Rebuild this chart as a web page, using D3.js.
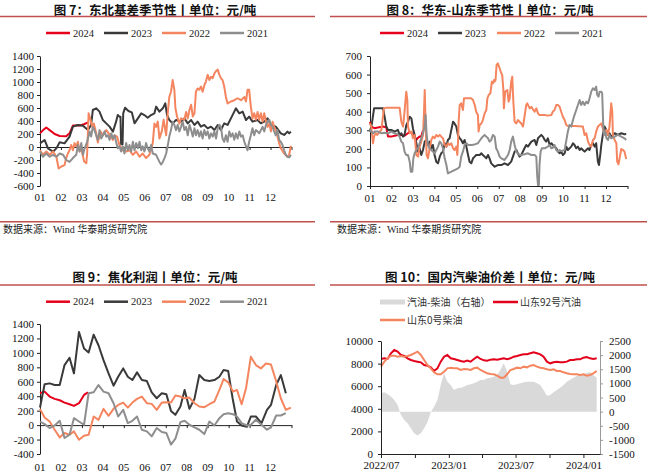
<!DOCTYPE html>
<html><head><meta charset="utf-8">
<script src="https://cdn.jsdelivr.net/npm/d3@7"></script>
<style>body{margin:0;background:#fff}svg{display:block}</style>
</head><body>
<svg id="c" width="647" height="474"></svg>
<script>
// ---------------- DATA ----------------
const monthLabels = ["01","02","03","04","05","06","07","08","09","10","11","12"];
const yearNames = ["2024","2023","2022","2021"];

// Fig 7: NE basis seasonality  [month position, value]
const ne2024 = [[0,210],[0.15,260],[0.3,300],[0.46,260],[0.7,200],[0.94,170],[1.25,165],[1.41,210],[1.57,330],[1.9,330],[2.1,350],[2.29,380]];
const ne2023 = [[0,56],[0.22,108],[0.38,-21],[0.62,-72],[0.78,-21],[0.94,72],[1.17,56],[1.41,159],[1.57,313],[1.81,339],[2.05,328],[2.29,262],[2.44,339],[2.52,569],[2.68,595],[2.84,544],[3.0,415],[3.16,364],[3.32,313],[3.48,236],[3.63,390],[3.71,492],[3.79,467],[3.84,467],[3.87,41],[3.94,41],[3.97,518],[4.06,605],[4.22,554],[4.38,533],[4.51,364],[4.67,441],[4.83,518],[4.98,492],[5.14,451],[5.3,492],[5.46,518],[5.54,621],[5.7,544],[5.86,595],[5.98,672],[6.06,492],[6.17,415],[6.33,364],[6.49,415],[6.73,390],[6.89,441],[7.05,364],[7.21,415],[7.37,339],[7.52,390],[7.68,313],[7.84,339],[8.0,287],[8.16,313],[8.32,262],[8.48,339],[8.63,262],[8.79,364],[8.95,339],[9.11,441],[9.27,544],[9.35,595],[9.51,518],[9.67,544],[9.83,415],[9.98,467],[10.14,390],[10.38,415],[10.54,364],[10.7,390],[10.86,441],[11.02,339],[11.25,313],[11.49,210],[11.65,185],[11.81,236],[11.89,210],[11.97,236]];
const ne2022 = [[0,-50],[0.14,-120],[0.3,-70],[0.46,-120],[0.62,-70],[0.78,-150],[0.89,-330],[1.02,-300],[1.17,-280],[1.25,-170],[1.33,-100],[1.41,-50],[1.49,30],[1.57,-50],[1.65,60],[1.73,10],[1.81,80],[1.89,-70],[1.97,-20],[2.1,-220],[2.21,-250],[2.25,-100],[2.32,520],[2.41,420],[2.49,310],[2.57,360],[2.68,210],[2.76,70],[2.89,240],[3.0,180],[3.16,260],[3.32,190],[3.48,110],[3.56,180],[3.68,160],[3.79,30],[3.95,-50],[4.11,-70],[4.27,-50],[4.43,-120],[4.59,-70],[4.75,-150],[4.9,-100],[5.06,-170],[5.22,-120],[5.38,60],[5.46,360],[5.54,310],[5.62,390],[5.7,130],[5.81,240],[5.9,420],[6.02,180],[6.1,540],[6.17,770],[6.25,850],[6.33,1030],[6.41,880],[6.46,600],[6.54,470],[6.65,360],[6.73,440],[6.89,420],[6.97,540],[7.05,440],[7.13,570],[7.21,650],[7.29,470],[7.37,520],[7.44,850],[7.52,900],[7.6,880],[7.68,930],[7.76,850],[7.84,950],[7.92,1010],[8.0,1110],[8.08,1030],[8.16,1080],[8.24,1060],[8.32,1130],[8.4,1170],[8.48,1190],[8.56,1110],[8.63,1060],[8.71,1030],[8.79,930],[8.87,770],[8.95,670],[9.11,700],[9.27,720],[9.43,750],[9.59,720],[9.75,770],[9.83,700],[9.9,880],[9.98,880],[10.06,620],[10.14,440],[10.22,520],[10.3,420],[10.38,540],[10.46,420],[10.54,520],[10.62,390],[10.7,520],[10.78,390],[10.86,310],[10.94,360],[11.02,240],[11.1,390],[11.17,310],[11.25,260],[11.33,160],[11.41,60],[11.49,-20],[11.65,-100],[11.81,-150],[11.89,-120],[11.97,20]];
const ne2021 = [[0,-70],[0.14,-150],[0.3,-100],[0.46,-150],[0.62,-120],[0.78,-150],[0.94,-100],[1.1,-120],[1.25,-200],[1.41,-230],[1.57,-170],[1.73,-120],[1.81,30],[1.89,-70],[1.97,60],[2.05,-120],[2.13,-20],[2.25,80],[2.37,240],[2.44,160],[2.52,310],[2.6,260],[2.68,180],[2.76,110],[2.84,260],[2.92,130],[3.0,180],[3.08,240],[3.16,160],[3.24,180],[3.32,110],[3.4,210],[3.48,130],[3.56,180],[3.63,80],[3.71,-20],[3.79,10],[3.87,-70],[3.95,10],[4.03,-100],[4.11,60],[4.19,-50],[4.27,30],[4.35,-70],[4.43,80],[4.51,-50],[4.59,60],[4.67,-20],[4.75,80],[4.83,-50],[4.9,10],[4.98,-70],[5.06,60],[5.14,-20],[5.22,-70],[5.3,30],[5.38,-100],[5.54,-120],[5.7,-230],[5.78,-270],[5.86,-230],[5.94,-170],[6.02,-100],[6.1,30],[6.17,160],[6.25,260],[6.33,390],[6.41,340],[6.49,260],[6.57,340],[6.65,240],[6.73,310],[6.81,390],[6.89,260],[6.97,310],[7.05,180],[7.13,340],[7.21,260],[7.29,160],[7.37,290],[7.44,180],[7.52,260],[7.6,160],[7.68,240],[7.76,130],[7.84,260],[7.92,180],[8.0,240],[8.08,130],[8.16,210],[8.24,160],[8.32,240],[8.4,130],[8.48,290],[8.56,340],[8.63,310],[8.71,130],[8.79,80],[8.87,180],[8.95,80],[9.03,240],[9.11,160],[9.19,210],[9.27,110],[9.35,210],[9.43,130],[9.51,240],[9.59,160],[9.67,180],[9.75,80],[9.83,10],[9.9,-50],[9.98,80],[10.06,180],[10.14,290],[10.22,180],[10.3,260],[10.38,240],[10.46,210],[10.54,260],[10.62,310],[10.7,240],[10.78,340],[10.86,390],[10.94,420],[11.02,340],[11.1,310],[11.17,240],[11.25,180],[11.33,260],[11.41,110],[11.49,80],[11.57,30],[11.65,-50],[11.73,-120],[11.81,-150],[11.89,-160],[11.97,-120]];

// Fig 8: East China - Shandong seasonality
const ec2024 = [[0,346],[0.06,320],[0.2,311],[0.37,315],[0.61,320],[0.76,315],[0.84,266],[0.99,266],[1.15,271],[1.3,275],[1.46,275],[1.61,271],[1.69,278],[1.77,284],[1.85,293],[1.93,290],[2.0,275],[2.08,266],[2.16,248],[2.24,260],[2.31,266],[2.39,266],[2.47,300]];
const ec2023 = [[0,293],[0.09,337],[0.19,418],[0.61,418],[0.68,373],[0.76,320],[0.84,302],[0.99,302],[1.15,293],[1.3,302],[1.38,275],[1.46,284],[1.54,266],[1.61,275],[1.69,328],[1.77,346],[1.85,373],[1.93,364],[2.0,311],[2.08,275],[2.16,230],[2.24,185],[2.31,203],[2.39,167],[2.47,194],[2.55,239],[2.62,248],[2.7,221],[2.78,239],[2.86,203],[2.93,221],[3.01,167],[3.09,131],[3.17,122],[3.25,158],[3.32,176],[3.4,185],[3.48,230],[3.56,212],[3.63,248],[3.71,257],[3.79,302],[3.87,346],[3.94,337],[4.02,320],[4.1,275],[4.18,257],[4.25,248],[4.33,230],[4.41,248],[4.49,212],[4.57,167],[4.64,131],[4.72,122],[4.8,149],[4.88,158],[4.95,167],[5.03,167],[5.11,167],[5.19,176],[5.26,167],[5.34,158],[5.42,149],[5.5,167],[5.57,149],[5.65,122],[5.81,104],[5.96,113],[6.12,113],[6.27,122],[6.43,113],[6.58,131],[6.74,185],[6.82,194],[6.89,176],[6.97,158],[7.05,167],[7.2,203],[7.28,221],[7.36,212],[7.52,239],[7.67,248],[7.75,221],[7.83,257],[7.9,266],[7.98,275],[8.06,266],[8.14,248],[8.21,239],[8.29,257],[8.37,221],[8.45,230],[8.52,221],[8.6,212],[8.68,203],[8.76,185],[8.84,176],[8.91,185],[8.99,167],[9.07,176],[9.15,212],[9.22,194],[9.3,203],[9.38,212],[9.46,230],[9.53,221],[9.61,203],[9.69,212],[9.77,194],[9.84,203],[9.92,194],[10.0,185],[10.08,194],[10.16,203],[10.23,194],[10.31,221],[10.39,230],[10.47,212],[10.54,230],[10.62,131],[10.67,113],[10.73,167],[10.78,221],[10.85,275],[10.93,320],[11.01,302],[11.09,275],[11.16,284],[11.24,266],[11.4,284],[11.55,275],[11.71,284],[11.86,279],[11.94,280]];
const ec2022 = [[0,337],[0.06,320],[0.14,230],[0.19,266],[0.25,284],[0.34,275],[0.45,293],[0.53,302],[0.65,418],[0.76,422],[1.15,422],[1.38,422],[1.46,346],[1.54,320],[1.61,400],[1.69,508],[1.74,463],[1.77,320],[1.85,284],[1.93,293],[2.0,257],[2.08,275],[2.16,167],[2.24,158],[2.31,212],[2.39,239],[2.47,275],[2.52,409],[2.55,517],[2.59,346],[2.64,167],[2.7,149],[2.78,203],[2.86,248],[2.93,266],[3.01,257],[3.09,275],[3.17,266],[3.25,275],[3.32,266],[3.4,257],[3.48,221],[3.56,212],[3.63,230],[3.71,221],[3.79,230],[3.87,203],[3.94,194],[4.02,212],[4.07,167],[4.1,230],[4.13,346],[4.18,436],[4.25,445],[4.33,409],[4.38,472],[4.44,472],[4.57,472],[4.72,472],[4.8,463],[4.88,436],[4.95,400],[5.03,382],[5.06,293],[5.11,328],[5.19,337],[5.26,355],[5.34,391],[5.42,409],[5.47,472],[5.53,490],[5.61,499],[5.68,562],[5.73,553],[5.78,571],[5.81,562],[5.85,571],[5.9,652],[5.96,660],[6.04,634],[6.12,607],[6.16,598],[6.21,526],[6.24,418],[6.3,508],[6.4,517],[6.46,454],[6.51,472],[6.58,562],[6.63,589],[6.68,454],[6.74,346],[6.82,337],[6.89,355],[6.97,346],[7.05,337],[7.13,320],[7.2,373],[7.28,436],[7.33,445],[7.44,418],[7.52,426],[7.67,400],[7.75,418],[7.83,391],[7.9,382],[7.98,382],[8.14,382],[8.29,379],[8.45,382],[8.52,400],[8.6,409],[8.68,436],[8.76,436],[8.84,426],[8.91,400],[8.99,373],[9.07,355],[9.15,328],[9.22,323],[9.53,323],[9.92,320],[10.0,275],[10.08,284],[10.16,239],[10.23,221],[10.31,212],[10.39,248],[10.47,257],[10.54,293],[10.62,320],[10.7,328],[10.78,337],[10.85,311],[10.93,275],[11.01,302],[11.09,275],[11.16,320],[11.24,445],[11.29,400],[11.32,275],[11.4,248],[11.48,230],[11.52,131],[11.58,117],[11.63,149],[11.71,199],[11.79,194],[11.86,185],[11.94,145]];
const ec2021 = [[0,302],[0.06,293],[0.14,284],[0.22,293],[0.37,293],[0.53,284],[0.68,287],[0.84,284],[0.99,293],[1.15,284],[1.3,278],[1.38,266],[1.46,239],[1.54,230],[1.61,185],[1.69,167],[1.77,167],[1.85,131],[1.9,77],[1.97,77],[2.02,149],[2.08,176],[2.16,194],[2.24,203],[2.31,230],[2.39,257],[2.47,284],[2.55,320],[2.59,382],[2.64,275],[2.7,221],[2.78,203],[2.86,194],[2.93,185],[3.01,176],[3.09,194],[3.17,212],[3.25,239],[3.32,230],[3.4,203],[3.48,149],[3.56,113],[3.63,68],[3.79,77],[3.94,86],[4.1,95],[4.18,104],[4.25,158],[4.33,185],[4.41,221],[4.49,230],[4.57,221],[4.72,221],[4.88,224],[5.03,230],[5.19,257],[5.26,266],[5.34,275],[5.42,266],[5.5,257],[5.57,239],[5.65,248],[5.73,275],[5.81,266],[5.88,203],[5.96,185],[6.04,158],[6.12,149],[6.27,140],[6.43,167],[6.51,194],[6.58,239],[6.66,266],[6.74,221],[6.82,185],[6.89,176],[6.97,167],[7.05,167],[7.2,171],[7.36,176],[7.52,167],[7.67,167],[7.75,158],[7.79,59],[7.83,5],[7.87,5],[7.9,113],[7.95,185],[8.01,203],[8.14,203],[8.29,212],[8.37,221],[8.45,203],[8.52,206],[8.6,221],[8.68,194],[8.76,185],[8.84,194],[8.91,188],[9.07,194],[9.22,293],[9.3,328],[9.38,320],[9.46,355],[9.53,382],[9.61,409],[9.69,436],[9.77,463],[9.84,436],[9.92,454],[10.0,436],[10.08,454],[10.16,445],[10.23,472],[10.31,508],[10.39,526],[10.47,517],[10.54,535],[10.59,490],[10.65,481],[10.7,508],[10.78,508],[10.82,499],[10.87,328],[10.9,275],[10.96,293],[11.02,257],[11.09,248],[11.16,275],[11.24,257],[11.4,266],[11.55,275],[11.71,266],[11.86,257],[11.94,248]];

// Fig 9: coking profit (weekly)
const ck2024 = [[0,441],[0.22,464],[0.46,395],[0.7,363],[0.94,344],[1.17,312],[1.41,289],[1.62,266],[1.86,303],[2.1,418],[2.29,454]];
const ck2023 = [[0,243],[0.22,565],[0.46,578],[0.7,555],[0.94,555],[1.17,831],[1.41,932],[1.62,716],[1.86,1290],[2.1,1060],[2.32,1005],[2.56,1253],[2.79,1106],[3.03,900],[3.27,716],[3.51,546],[3.73,670],[3.97,785],[4.19,670],[4.41,624],[4.63,730],[4.86,624],[5.1,610],[5.33,454],[5.57,372],[5.81,441],[6.03,427],[6.25,197],[6.46,142],[6.7,257],[6.9,487],[7.13,225],[7.37,363],[7.6,693],[7.84,624],[8.08,610],[8.32,624],[8.56,670],[8.76,762],[8.98,748],[9.19,372],[9.4,50],[9.62,-5],[9.87,-23],[10.06,119],[10.3,119],[10.57,28],[10.83,211],[11.02,280],[11.27,555],[11.49,693],[11.73,441]];
const ck2022 = [[0,225],[0.22,106],[0.46,50],[0.7,-64],[0.94,-170],[1.17,-110],[1.41,-133],[1.62,-87],[1.86,-202],[2.1,-147],[2.32,-133],[2.56,119],[2.79,73],[3.03,225],[3.27,129],[3.51,225],[3.73,280],[3.97,312],[4.19,243],[4.41,312],[4.63,363],[4.86,395],[5.1,303],[5.33,294],[5.57,211],[5.81,312],[6.03,317],[6.25,312],[6.46,409],[6.7,395],[6.9,372],[7.13,381],[7.37,303],[7.6,257],[7.84,248],[8.08,289],[8.32,326],[8.56,487],[8.76,638],[8.98,592],[9.21,464],[9.4,487],[9.62,289],[9.83,510],[10.06,946],[10.3,831],[10.54,785],[10.78,854],[11.02,840],[11.25,624],[11.49,372],[11.73,211],[11.97,243]];
const ck2021 = [[0,50],[0.22,14],[0.46,-41],[0.7,-5],[0.94,60],[1.17,-179],[1.41,-133],[1.62,96],[1.86,50],[2.1,5],[2.32,441],[2.56,454],[2.79,555],[3.03,464],[3.27,441],[3.51,303],[3.73,119],[3.97,211],[4.19,28],[4.41,60],[4.63,119],[4.86,-64],[5.1,-87],[5.33,-156],[5.57,-41],[5.81,-96],[6.03,-110],[6.25,-271],[6.46,-188],[6.7,41],[6.9,60],[7.13,5],[7.37,-32],[7.6,-64],[7.84,-124],[8.08,50],[8.32,-5],[8.56,96],[8.76,151],[8.98,165],[9.21,151],[9.4,119],[9.62,28],[9.87,-5],[10.06,5],[10.3,73],[10.57,5],[10.83,-64],[11.02,-32],[11.27,133],[11.49,133],[11.73,165]];

// Fig 10: gasoline / diesel (every 9 days from 2022-07-01)
const p10Start = "2022-07-01";
const p10StepDays = 9;
const gas92 = [8408,8467,8408,8909,9204,9057,8762,8673,8467,8319,8231,8172,8113,7877,7818,7670,7350,7582,8172,8614,8762,8467,8408,8319,8231,8172,8260,8172,8408,8614,8408,8290,8260,8349,8378,8349,8408,8467,8378,8467,8614,8673,8762,8821,8821,8909,8998,8909,8821,8614,8172,8024,8113,8172,8113,8113,8172,8319,8319,8378,8378,8526,8585,8467,8408,8467];
const diesel0 = [7729,8172,8467,8703,8703,8614,8673,8614,8673,8762,8909,9057,8762,8319,7877,7582,7228,7051,7051,7287,7582,7641,7582,7582,7434,7523,7493,7434,7582,7641,7434,7287,7139,7080,7051,6933,6756,6756,7051,7434,7523,7641,7582,7729,7670,7818,7877,7729,7641,7582,7493,7434,7493,7346,7346,7228,7139,7080,7051,7051,6992,7051,6933,6992,7139,7346];
const spread = [650,690,613,531,413,236,-118,-295,-413,-590,-767,-849,-767,-590,-377,-24,177,413,943,1356,1061,943,766,825,849,884,943,967,1002,1061,1120,1120,1179,1203,1238,1297,1474,1710,1415,967,943,967,1002,1038,1061,1061,1061,1002,943,766,560,590,684,766,849,943,1061,1130,1200,1260,1300,1340,1370,1400,1300,1200];
const p10Names = ["汽油-柴油（右轴）","山东92号汽油","山东0号柴油"];
const leftTicks = [0,2000,4000,6000,8000,10000];
const rightTicks = [-1500,-1000,-500,0,500,1000,1500,2000,2500];

// ---------------- DRAW ----------------
const svg = d3.select("#c");
const SERIF = "'Liberation Serif','Times New Roman',serif";
const CJK = "'Noto Sans CJK SC','Noto Sans',sans-serif";
const yearColors = ["#e5001c","#3a3a3a","#f4855f","#8e8e8e"];
const ruleColor = "#c0504d";
const axisColor = "#222";

function header(cx, ty, title, rx0, rx1, ry){
  svg.append("text").attr("x",cx).attr("y",ty).attr("text-anchor","middle")
    .attr("font-family",CJK).attr("font-weight",700).attr("font-size",12.5).attr("fill","#111").text(title);
  svg.append("line").attr("x1",rx0).attr("x2",rx1).attr("y1",ry).attr("y2",ry)
    .attr("stroke",ruleColor).attr("stroke-width",1.6);
}
function footer(x, ty, rx0, rx1, ry){
  svg.append("line").attr("x1",rx0).attr("x2",rx1).attr("y1",ry).attr("y2",ry)
    .attr("stroke",ruleColor).attr("stroke-width",1.6);
  const t = svg.append("text").attr("x",x).attr("y",ty).attr("font-size",10).attr("fill","#222");
  t.append("tspan").attr("font-family",CJK).text("数据来源：");
  t.append("tspan").attr("font-family",SERIF).text("Wind ");
  t.append("tspan").attr("font-family",CJK).text("华泰期货研究院");
}
function styleAxis(a){
  a.selectAll("text").attr("font-family",SERIF).attr("font-size",11).attr("fill","#111");
  a.selectAll("line,path").attr("stroke",axisColor);
}

function seasonal(cfg){
  const g = svg.append("g");
  const x = d3.scaleLinear().domain([0,12]).range([cfg.x0,cfg.x1]);
  const y = d3.scaleLinear().domain(cfg.yDomain).range([cfg.yBot,cfg.yTop]);
  g.append("g").attr("transform",`translate(${cfg.x0},0)`)
    .call(d3.axisLeft(y).tickValues(cfg.yTicks).tickSize(3).tickSizeOuter(0).tickPadding(cfg.pad).tickFormat(d=>String(d)))
    .call(styleAxis);
  g.append("g").attr("transform",`translate(0,${y(cfg.yDomain[0] < 0 ? 0 : cfg.yDomain[0])})`)
    .call(d3.axisBottom(x).tickValues(d3.range(0,13)).tickSize(3).tickSizeOuter(0).tickFormat(""))
    .call(styleAxis);
  g.append("g").selectAll("text").data(monthLabels).join("text")
    .attr("x",(d,i)=>x(i)).attr("y",cfg.labelY).attr("text-anchor","middle")
    .attr("font-family",SERIF).attr("font-size",11).attr("fill","#111").text(d=>d);
  const line = d3.line().x(d=>x(d[0])).y(d=>y(d[1]));
  cfg.series.forEach((s,i)=>{
    g.append("path").datum(s).attr("d",line).attr("fill","none")
      .attr("stroke",yearColors[i]).attr("stroke-width",2).attr("stroke-linejoin","round");
  });
  const lg = g.append("g");
  yearNames.forEach((n,i)=>{
    const lx = cfg.legendX[i];
    lg.append("line").attr("x1",lx).attr("x2",lx+24).attr("y1",cfg.legendY).attr("y2",cfg.legendY)
      .attr("stroke",yearColors[i]).attr("stroke-width",2.5);
    lg.append("text").attr("x",lx+27).attr("y",cfg.legendY+3.6).attr("font-family",SERIF)
      .attr("font-size",10.5).attr("fill","#222").text(n);
  });
}

// Panel 7
header(155,14.5,"图 7：东北基差季节性丨单位：元/吨",0,315,16.5);
seasonal({x0:40,x1:291.5,yTop:56,yBot:186,yDomain:[-600,1400],yTicks:d3.range(-600,1401,200),pad:3,
  labelY:201,series:[ne2024,ne2023,ne2022,ne2021],legendX:[46,104,162,220],legendY:33});
footer(3,233,0,315,221.7);

// Panel 8
header(490,14.5,"图 8：华东-山东季节性丨单位：元/吨",330,647,16.5);
seasonal({x0:370,x1:627.5,yTop:56,yBot:186,yDomain:[0,700],yTicks:d3.range(0,701,100),pad:5,
  labelY:201.5,series:[ec2024,ec2023,ec2022,ec2021],legendX:[380,438,497,555],legendY:33});
footer(337,233,330,647,221.7);

// Panel 9
header(155,281.5,"图 9：焦化利润丨单位：元/吨",0,315,285);
seasonal({x0:40,x1:291.5,yTop:324,yBot:454,yDomain:[-400,1400],yTicks:d3.range(-400,1401,200),pad:3,
  labelY:471,series:[ck2024,ck2023,ck2022,ck2021],legendX:[46,104,162,220],legendY:301.7});

// Panel 10
header(490,281.5,"图 10：国内汽柴油价差丨单位：元/吨",330,647,285);
(function(){
  const g = svg.append("g");
  const t0 = d3.timeParse("%Y-%m-%d")(p10Start);
  const dates = gas92.map((d,i)=>d3.timeDay.offset(t0,i*p10StepDays));
  const x = d3.scaleTime().domain([t0,new Date(2024,1,15)]).range([381,600]);
  const yL = d3.scaleLinear().domain([0,10000]).range([454,341]);
  const yR = d3.scaleLinear().domain([-1500,2500]).range([454,341]);
  const area = d3.area().x((d,i)=>x(dates[i])).y0(yR(0)).y1(d=>yR(d));
  g.append("path").datum(spread).attr("d",area).attr("fill","#d9d9d9");
  const lineL = d3.line().x((d,i)=>x(dates[i])).y(d=>yL(d));
  g.append("path").datum(gas92).attr("d",lineL).attr("fill","none").attr("stroke","#e3001b").attr("stroke-width",2);
  g.append("path").datum(diesel0).attr("d",lineL).attr("fill","none").attr("stroke","#f4855f").attr("stroke-width",2);
  g.append("g").attr("transform","translate(381,0)")
    .call(d3.axisLeft(yL).tickValues(leftTicks).tickSize(3).tickSizeOuter(0).tickPadding(5).tickFormat(d=>String(d)))
    .call(styleAxis);
  g.append("g").attr("transform","translate(600,0)")
    .call(d3.axisRight(yR).tickValues(rightTicks).tickSize(3).tickSizeOuter(0).tickPadding(6).tickFormat(d=>String(d)))
    .call(styleAxis).call(a=>a.selectAll("line,path").attr("stroke","#9a9a9a"));
  g.append("g").attr("transform","translate(0,454)")
    .call(d3.axisBottom(x).ticks(d3.timeMonth.every(3)).tickSize(4).tickSizeOuter(0).tickPadding(3)
      .tickFormat(d=>d.getMonth()%6===0 ? d3.timeFormat("%Y/%m")(d) : ""))
    .call(styleAxis);
  // legend
  g.append("rect").attr("x",380).attr("y",299.5).attr("width",25).attr("height",5).attr("fill","#d9d9d9");
  g.append("text").attr("x",407).attr("y",305.5).attr("font-family",CJK).attr("font-size",10).attr("fill","#333").text(p10Names[0]);
  g.append("line").attr("x1",493).attr("x2",518).attr("y1",302).attr("y2",302).attr("stroke","#e3001b").attr("stroke-width",2.5);
  g.append("text").attr("x",520).attr("y",305.5).attr("font-family",CJK).attr("font-size",10).attr("fill","#333").text(p10Names[1]);
  g.append("line").attr("x1",380).attr("x2",405).attr("y1",320).attr("y2",320).attr("stroke","#f4855f").attr("stroke-width",2.5);
  g.append("text").attr("x",407).attr("y",323.5).attr("font-family",CJK).attr("font-size",10).attr("fill","#333").text(p10Names[2]);
})();
</script>
</body></html>
